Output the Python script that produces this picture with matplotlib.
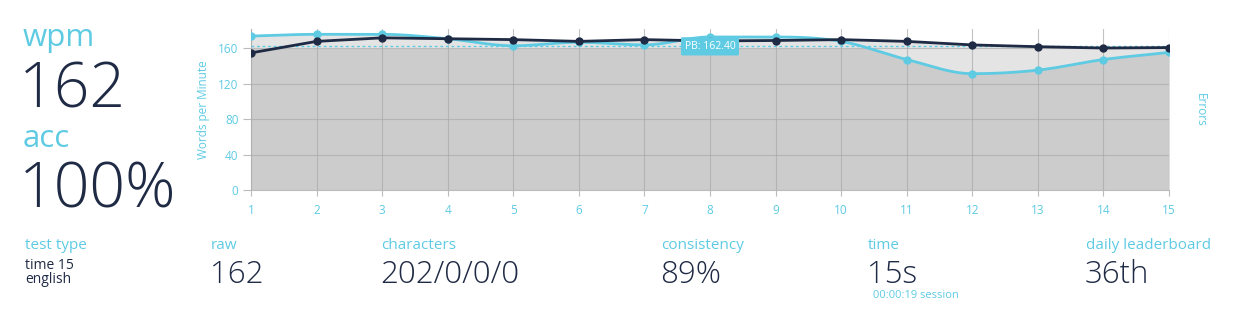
import numpy as np
import matplotlib
matplotlib.use("Agg")
import matplotlib.pyplot as plt

# ---- data ----
seconds = [1, 2, 3, 4, 5, 6, 7, 8, 9, 10, 11, 12, 13, 14, 15]
wpm = [155, 168, 172, 171, 170, 168, 170, 168.5, 169, 170, 168, 164, 162, 160.5, 161]
raw = [174, 176, 176, 171, 163, 167, 164, 173, 173, 168, 147.5, 131.5, 135.5, 147.5, 155.5]
pb = 162.40
y_ticks = [0, 40, 80, 120, 160]

stats_top = [("wpm", "162"), ("acc", "100%")]
test_type = ["time 15", "english"]
bottom_stats = [("raw", "162"), ("characters", "202/0/0/0"), ("consistency", "89%"),
                ("time", "15s"), ("daily leaderboard", "36th")]
session_text = "00:00:19 session"

# ---- style ----
CYAN = "#5ecbe3"
NAVY = "#1f2a44"
FONT = "Open Sans"
plt.rcParams['font.family'] = [FONT, 'DejaVu Sans']

W, H = 1234, 313
fig = plt.figure(figsize=(W / 100, H / 100), dpi=100)
fig.patch.set_facecolor("white")


def fx(px):
    return px / W


def fy(py):
    return 1 - py / H


def monotone(x, y, n=30):
    x = np.asarray(x, float)
    y = np.asarray(y, float)
    h = np.diff(x)
    d = np.diff(y) / h
    m = np.zeros_like(y)
    m[0], m[-1] = d[0], d[-1]
    for i in range(1, len(y) - 1):
        if d[i - 1] * d[i] <= 0:
            m[i] = 0
        else:
            m[i] = (d[i - 1] + d[i]) / 2
    for i in range(len(d)):
        if d[i] == 0:
            m[i] = m[i + 1] = 0
        else:
            a, b = m[i] / d[i], m[i + 1] / d[i]
            s = a * a + b * b
            if s > 9:
                t = 3 / np.sqrt(s)
                m[i], m[i + 1] = t * a * d[i], t * b * d[i]
    xs, ys = [], []
    for i in range(len(d)):
        t = np.linspace(0, 1, n, endpoint=(i == len(d) - 1))
        h00 = 2 * t**3 - 3 * t**2 + 1
        h10 = t**3 - 2 * t**2 + t
        h01 = -2 * t**3 + 3 * t**2
        h11 = t**3 - t**2
        xs.append(x[i] + t * h[i])
        ys.append(h00 * y[i] + h10 * h[i] * m[i] + h01 * y[i + 1] + h11 * h[i] * m[i + 1])
    return np.concatenate(xs), np.concatenate(ys)


ax = fig.add_axes([fx(251), fy(190), fx(1169) - fx(251), fy(29) - fy(190)])
ax.set_xlim(seconds[0], seconds[-1])
ax.set_ylim(0, 182)

xs, ys = monotone(seconds, raw)
wpm_interp = np.interp(xs, seconds, wpm)
ax.fill_between(xs, 0, np.maximum(ys, wpm_interp), color="#e4e4e4", zorder=1, lw=0)
ax.fill_between(xs, 0, np.minimum(ys, y_ticks[-1]), color="#cccccc", zorder=1.5, lw=0)

ax.set_xticks(seconds)
ax.set_yticks(y_ticks)
ax.grid(True, color="#aaaaaa", lw=0.8, alpha=0.7, zorder=2)
ax.set_axisbelow(False)
for s in ["top", "right"]:
    ax.spines[s].set_visible(False)
for s in ["left", "bottom"]:
    ax.spines[s].set_color("#bbbbbb")
    ax.spines[s].set_linewidth(0.8)
ax.tick_params(axis="both", colors="#bbbbbb", labelcolor=CYAN, labelsize=8.5, length=6, width=0.8)
ax.tick_params(axis="x", length=4, pad=6)
ax.tick_params(axis="y", pad=3)

ax.axhline(pb, color=CYAN, lw=1, ls=(0, (2, 2)), zorder=3)
ax.plot(xs, ys, color=CYAN, lw=2, zorder=4)
ax.plot(seconds, raw, "o", color=CYAN, ms=5, zorder=4)
ax.plot(seconds, wpm, "-o", color=NAVY, lw=2, ms=5, zorder=5)

ax.text(8, pb, f"PB: {pb:.2f}", ha="center", va="center", color="white", fontsize=7.5,
        zorder=6, bbox=dict(boxstyle="round,pad=0.35,rounding_size=0.15", fc=CYAN, ec="none"))

ax.set_ylabel("Words per Minute", color=CYAN, fontsize=8.5, labelpad=6)
fig.text(fx(1200), fy(110), "Errors", rotation=270, ha="center", va="center",
         color=CYAN, fontsize=8.5)

# ---- left big stats ----
LW = "light"
fig.text(fx(23), fy(46), stats_top[0][0], color=CYAN, fontsize=22.5, va="baseline")
fig.text(fx(19), fy(108), stats_top[0][1], color=NAVY, fontsize=45, va="baseline", fontweight=LW)
fig.text(fx(23), fy(147), stats_top[1][0], color=CYAN, fontsize=22.5, va="baseline")
fig.text(fx(19), fy(207), stats_top[1][1], color=NAVY, fontsize=45, va="baseline", fontweight=LW)

fig.text(fx(25), fy(249), "test type", color=CYAN, fontsize=11, va="baseline")
fig.text(fx(25), fy(269), test_type[0], color=NAVY, fontsize=10, va="baseline")
fig.text(fx(25), fy(283), test_type[1], color=NAVY, fontsize=10, va="baseline")

xpos = [211, 381, 661, 868, 1086]
for (lab, val), px in zip(bottom_stats, xpos):
    fig.text(fx(px), fy(249), lab, color=CYAN, fontsize=11, va="baseline")
    fig.text(fx(px - 1), fy(283), val, color=NAVY, fontsize=22.5, va="baseline", fontweight=LW)
fig.text(fx(873), fy(298), session_text, color=CYAN, fontsize=8, va="baseline")

fig.savefig("out.png", dpi=100, facecolor="white")
